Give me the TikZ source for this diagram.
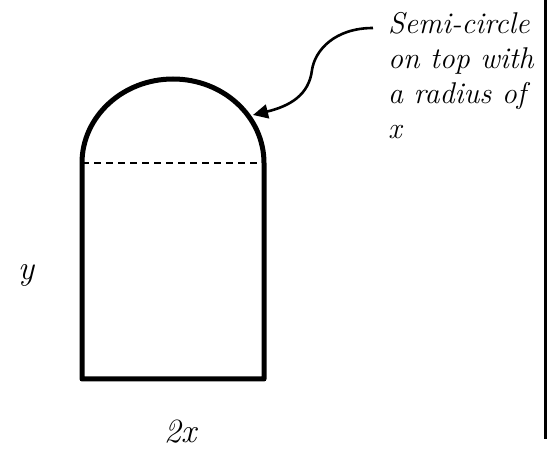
\documentclass[tikz,border=0pt]{standalone}
\usepackage{fontspec}
\usetikzlibrary{arrows.meta}
\begin{document}
\begin{tikzpicture}[x=1pt,y=-1pt,
  shapeline/.style={line width=5pt,line cap=round,line join=round},
  lbl/.style={font=\fontsize{34}{40}\selectfont\itshape, inner sep=0pt},
  note/.style={font=\fontsize{30}{35}\selectfont\itshape, inner sep=0pt, align=left, anchor=north west},
  pointer/.style={line width=2.6pt,-{Triangle[length=15pt,width=14pt]}}]
\useasboundingbox (0,0) rectangle (547,449);
% right border
\draw[line width=3pt] (545.5,0) -- (545.5,439);
% shape
\coordinate (bl) at (82,379);
\coordinate (br) at (264,379);
\coordinate (tl) at (82,163);
\coordinate (tr) at (264,163);
\draw[shapeline] (tl) -- (bl) -- (br) -- (tr)
  arc[start angle=0,end angle=180,x radius=91,y radius=-84] -- cycle;
\draw[line width=1.5pt,dash pattern=on 7pt off 5pt] (tl) -- (tr);
% labels
\node[lbl] (ylab) at (26,275) {y};
\node[lbl] (xlab) at (180,432) {2x};
\node[note] (txt) at (388,12) {Semi-circle\\on top with\\a radius of\\x};
\coordinate (astart) at (373,28);
\coordinate (aend) at (253,115);
\draw[pointer] (astart) .. controls (335,28) and (315,50) .. (312,70)
  .. controls (309,95) and (290,106) .. (aend);
\end{tikzpicture}
\end{document}
